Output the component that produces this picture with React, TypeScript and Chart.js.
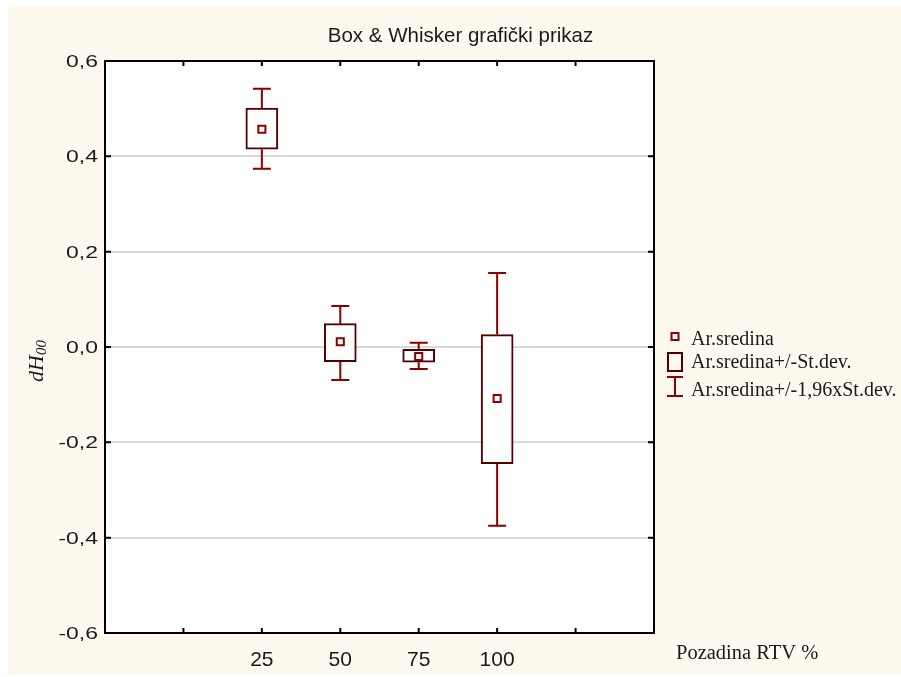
import React, { useEffect, useRef } from 'react';
import { Chart, registerables } from 'chart.js';

Chart.register(...registerables);

const chartTitle = 'Box & Whisker grafički prikaz';
const xTickLabels = ['', '25', '50', '75', '100', ''];
const groups = ['25', '50', '75', '100'];
const means = [0.457, 0.011, -0.02, -0.108];
const sdLow = [0.415, -0.031, -0.032, -0.245];
const sdHigh = [0.501, 0.049, -0.005, 0.026];
const ciLow = [0.374, -0.069, -0.046, -0.375];
const ciHigh = [0.542, 0.086, 0.009, 0.155];
const yTicks = [0.6, 0.4, 0.2, 0, -0.2, -0.4, -0.6];
const yTickLabels = ['0,6', '0,4', '0,2', '0,0', '-0,2', '-0,4', '-0,6'];
const legendLabels = ['Ar.sredina', 'Ar.sredina+/-St.dev.', 'Ar.sredina+/-1,96xSt.dev.'];
const xTitle = 'Pozadina RTV %';
const yTitleMain = 'dH';
const yTitleSub = '00';

const BG = '#fdf9ef';
const BOX = '#500000';
const WHISK = '#8b0000';
const TEXT = '#1a1a1a';
const SANS = '"Liberation Sans", Arial, sans-serif';
const SERIF = '"Liberation Serif", "Times New Roman", serif';

const xOf = (g: string) => xTickLabels.indexOf(g) + 1;

function txt(ctx: CanvasRenderingContext2D, s: string, x: number, y: number, font: string, align: CanvasTextAlign, sx = 1) {
  ctx.save();
  ctx.font = font;
  ctx.fillStyle = TEXT;
  ctx.textAlign = align;
  ctx.textBaseline = 'alphabetic';
  ctx.translate(x, y);
  ctx.scale(sx, 1);
  ctx.fillText(s, 0, 0);
  ctx.restore();
}

const deco = {
  id: 'deco',
  beforeDraw(chart: any) {
    const { ctx, chartArea: a, width, height } = chart;
    ctx.save();
    ctx.fillStyle = BG;
    ctx.fillRect(0, 0, width, height);
    ctx.fillStyle = '#ffffff';
    ctx.fillRect(a.left, a.top, a.right - a.left, a.bottom - a.top);
    ctx.restore();
  },
  beforeDatasetsDraw(chart: any) {
    const { ctx } = chart;
    const xs = chart.scales.x;
    const ys = chart.scales.y;
    ctx.save();
    ctx.strokeStyle = WHISK;
    ctx.lineWidth = 2;
    groups.forEach((g, i) => {
      const x = xs.getPixelForValue(xOf(g));
      const yHi = ys.getPixelForValue(ciHigh[i]);
      const yLo = ys.getPixelForValue(ciLow[i]);
      const yBt = ys.getPixelForValue(sdHigh[i]);
      const yBb = ys.getPixelForValue(sdLow[i]);
      ctx.beginPath();
      ctx.moveTo(x, yBt); ctx.lineTo(x, yHi);
      ctx.moveTo(x - 9, yHi); ctx.lineTo(x + 9, yHi);
      ctx.moveTo(x, yBb); ctx.lineTo(x, yLo);
      ctx.moveTo(x - 9, yLo); ctx.lineTo(x + 9, yLo);
      ctx.stroke();
    });
    ctx.restore();
  },
  afterDatasetsDraw(chart: any) {
    const { ctx, chartArea: a } = chart;
    const xs = chart.scales.x;
    const ys = chart.scales.y;
    ctx.save();
    ctx.strokeStyle = '#000';
    ctx.lineWidth = 2;
    ctx.strokeRect(a.left, a.top, a.right - a.left, a.bottom - a.top);
    ctx.beginPath();
    xTickLabels.forEach((_, i) => {
      const x = xs.getPixelForValue(i + 1);
      ctx.moveTo(x, a.top); ctx.lineTo(x, a.top + 5);
      ctx.moveTo(x, a.bottom); ctx.lineTo(x, a.bottom - 5);
    });
    yTicks.forEach((v) => {
      const y = ys.getPixelForValue(v);
      ctx.moveTo(a.left, y); ctx.lineTo(a.left + 6, y);
      ctx.moveTo(a.right, y); ctx.lineTo(a.right - 6, y);
    });
    ctx.stroke();
    ctx.restore();

    yTicks.forEach((v, i) => {
      const y = ys.getPixelForValue(v);
      txt(ctx, yTickLabels[i], a.left - 7, y + 6, `17px ${SANS}`, 'right', 1.35);
    });
    xTickLabels.forEach((l, i) => {
      if (!l) return;
      const x = xs.getPixelForValue(i + 1);
      txt(ctx, l, x, a.bottom + 33, `21px ${SANS}`, 'center');
    });

    txt(ctx, chartTitle, 452.5, 34.5, `20.5px ${SANS}`, 'center');

    txt(ctx, xTitle, 668, 652, `20.5px ${SERIF}`, 'left');
    ctx.save();
    ctx.fillStyle = TEXT;
    ctx.font = `italic 22px ${SERIF}`;
    const wMain = ctx.measureText(yTitleMain).width;
    ctx.font = `italic 15px ${SERIF}`;
    const wSub = ctx.measureText(yTitleSub).width;
    const total = wMain + wSub;
    ctx.translate(35, 354 + total / 2);
    ctx.rotate(-Math.PI / 2);
    ctx.textBaseline = 'alphabetic';
    ctx.font = `italic 22px ${SERIF}`;
    ctx.fillText(yTitleMain, 0, 0);
    ctx.font = `italic 15px ${SERIF}`;
    ctx.fillText(yTitleSub, wMain, 3);
    ctx.restore();

    ctx.save();
    ctx.lineWidth = 2;
    ctx.fillStyle = '#fff';
    ctx.strokeStyle = WHISK;
    ctx.fillRect(663.5, 326, 7, 7);
    ctx.strokeRect(663.5, 326, 7, 7);
    ctx.strokeStyle = BOX;
    ctx.strokeRect(660, 346, 14, 18);
    ctx.strokeStyle = WHISK;
    ctx.beginPath();
    ctx.moveTo(667, 370); ctx.lineTo(667, 389);
    ctx.moveTo(659, 370); ctx.lineTo(675, 370);
    ctx.moveTo(659, 389); ctx.lineTo(675, 389);
    ctx.stroke();
    ctx.restore();
    const legendY = [338, 361, 389];
    legendLabels.forEach((l, i) => txt(ctx, l, 683, legendY[i], `20px ${SERIF}`, 'left'));
  },
};

export default function App() {
  const ref = useRef<HTMLCanvasElement | null>(null);
  useEffect(() => {
    const canvas = ref.current;
    if (!canvas) return;
    const chart = new Chart(canvas, {
      type: 'bar',
      data: {
        datasets: [
          {
            type: 'scatter',
            label: legendLabels[0],
            data: groups.map((g, i) => ({ x: xOf(g), y: means[i] })),
            pointStyle: 'rect',
            pointRadius: 5,
            pointBorderWidth: 2,
            pointBackgroundColor: '#ffffff',
            pointBorderColor: WHISK,
            order: 0,
          } as any,
          {
            type: 'bar',
            label: legendLabels[1],
            data: groups.map((g, i) => ({ x: xOf(g), y: [sdLow[i], sdHigh[i]] })),
            backgroundColor: '#ffffff',
            borderColor: BOX,
            borderWidth: 2,
            borderSkipped: false,
            barThickness: 32,
            order: 1,
          } as any,
        ],
      },
      options: {
        animation: false,
        responsive: false,
        maintainAspectRatio: false,
        devicePixelRatio: 1,
        layout: { padding: { left: 97, top: 54, right: 247, bottom: 42 } },
        plugins: {
          legend: { display: false },
          title: { display: false },
          tooltip: { enabled: false },
        },
        scales: {
          x: { type: 'linear', min: 0, max: 7, offset: false, display: false },
          y: {
            type: 'linear',
            min: -0.6,
            max: 0.6,
            ticks: { display: false, stepSize: 0.2 },
            border: { display: false },
            grid: { drawTicks: false, color: '#d9d9d9', lineWidth: 2 },
          },
        },
      } as any,
      plugins: [deco as any],
    });
    return () => chart.destroy();
  }, []);
  return (
    <div style={{ position: 'absolute', left: 8, top: 7, width: 893, height: 668 }}>
      <canvas ref={ref} width={893} height={668} style={{ width: 893, height: 668, display: 'block' }} />
    </div>
  );
}
